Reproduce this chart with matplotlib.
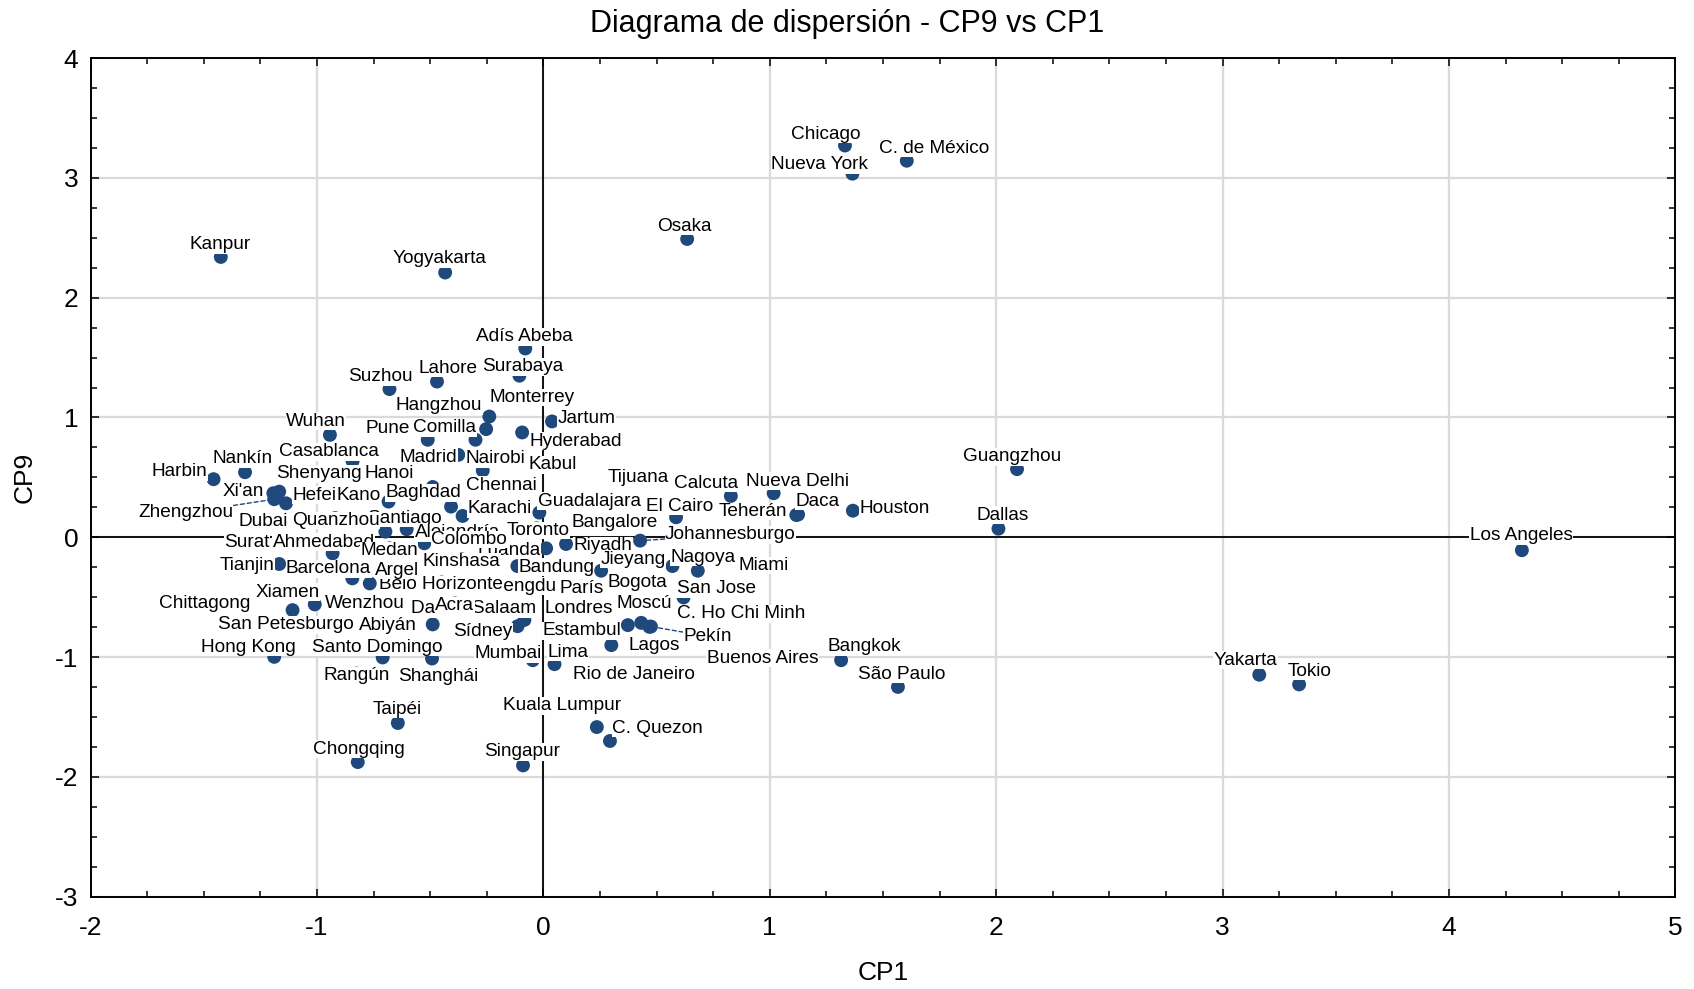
import matplotlib
matplotlib.use("Agg")
import matplotlib.pyplot as plt
from matplotlib.ticker import MultipleLocator

plt.rcParams['font.family'] = ['Liberation Sans', 'DejaVu Sans']
plt.rcParams['axes.unicode_minus'] = False

# ---- data ----
cities = [
    "Chicago", "C. de México", "Nueva York", "Osaka", "Kanpur", "Yogyakarta",
    "Adís Abeba", "Surabaya", "Lahore", "Suzhou", "Hangzhou", "Monterrey",
    "Jartum", "Wuhan", "Pune", "Comilla", "Hyderabad", "Casablanca", "Madrid",
    "Nairobi", "Kabul", "Nankín", "Harbin", "Shenyang", "Hanoi", "Chennai",
    "Xi'an", "Hefei", "Kano", "Baghdad", "Zhengzhou", "Karachi", "Guadalajara",
    "Tijuana", "Calcuta", "Nueva Delhi", "El Cairo", "Teherán", "Daca",
    "Houston", "Guangzhou", "Dallas", "Los Angeles", "Santiago", "Dubai",
    "Quanzhou", "Alejandría", "Bangalore", "Johannesburgo", "Surat",
    "Ahmedabad", "Medan", "Luanda", "Colombo", "Toronto", "Riyadh", "Kinshasa",
    "Bandung", "Jieyang", "Nagoya", "Miami", "Tianjin", "Barcelona", "Chengdu",
    "Belo Horizonte", "Argel", "París", "Bogota", "San Jose", "Xiamen",
    "Wenzhou", "Chittagong", "Dar es Salaam", "Acra", "Londres", "Moscú",
    "C. Ho Chi Minh", "San Petesburgo", "Abiyán", "Sídney", "Estambul", "Pekín",
    "Hong Kong", "Santo Domingo", "Mumbai", "Lima", "Lagos", "Buenos Aires",
    "Bangkok", "Yakarta", "Tokio", "Rangún", "Shanghái", "Rio de Janeiro",
    "São Paulo", "Taipéi", "Kuala Lumpur", "C. Quezon", "Chongqing", "Singapur",
]

cp1 = [
    1.332, 1.605, 1.365, 0.635, -1.425, -0.434,
    -0.080, -0.106, -0.470, -0.680, -0.253, -0.239,
    0.038, -0.943, -0.511, -0.300, -0.094, -0.843, -0.376,
    -0.268, 0.030, -1.318, -1.457, -1.180, -0.489, -0.357,
    -1.193, -1.167, -0.800, -0.684, -1.189, -0.408, -0.018,
    0.586, 0.828, 1.017, 0.600, 1.117, 1.125,
    1.367, 2.092, 2.010, 4.322, -0.698, -1.137,
    -0.920, -0.604, 0.320, 0.427, -1.310,
    -0.931, -0.680, 0.012, -0.526, -0.030, 0.100, -0.360,
    -0.115, 0.255, 0.570, 0.682, -1.167, -0.844, -0.110,
    -0.450, -0.767, 0.170, 0.417, 0.619, -1.108,
    -1.010, -1.496, -0.084, -0.391, 0.154, 0.432,
    0.468, -1.139, -0.489, -0.114, 0.373, 0.475,
    -1.189, -0.710, -0.047, 0.049, 0.300, 0.968,
    1.315, 3.162, 3.338, -0.826, -0.492, 0.402,
    1.566, -0.643, 0.236, 0.294, -0.820, -0.090,
]

cp9 = [
    3.270, 3.143, 3.035, 2.490, 2.340, 2.210,
    1.576, 1.349, 1.300, 1.237, 0.903, 1.008,
    0.967, 0.855, 0.814, 0.814, 0.875, 0.635, 0.688,
    0.557, 0.620, 0.543, 0.485, 0.345, 0.420, 0.178,
    0.368, 0.381, 0.360, 0.298, 0.318, 0.256, 0.206,
    0.167, 0.345, 0.368, 0.270, 0.186, 0.190,
    0.222, 0.569, 0.072, -0.108, 0.047, 0.284,
    0.160, 0.067, 0.145, -0.028, -0.030,
    -0.134, -0.092, -0.092, -0.050, 0.075, -0.056, -0.184,
    -0.240, -0.279, -0.240, -0.279, -0.223, -0.343, -0.390,
    -0.377, -0.385, -0.413, -0.357, -0.502, -0.608,
    -0.560, -0.533, -0.690, -0.552, -0.574, -0.714,
    -0.747, -0.714, -0.727, -0.742, -0.733, -0.745,
    -0.998, -1.003, -1.026, -1.059, -0.900, -0.992,
    -1.026, -1.147, -1.228, -1.137, -1.012, -1.124,
    -1.249, -1.550, -1.584, -1.700, -1.876, -1.904,
]

# ---- layout: label centres (data units) as placed in the reference ----
label_x = [
    1.248, 1.726, 1.220, 0.623, -1.430, -0.461,
    -0.084, -0.091, -0.423, -0.720, -0.461, -0.051,
    0.192, -1.004, -0.689, -0.436, 0.143, -0.949, -0.507,
    -0.211, 0.041, -1.331, -1.608, -0.993, -0.681, -0.186,
    -1.325, -1.012, -0.817, -0.532, -1.581, -0.194, 0.203,
    0.417, 0.717, 1.122, 0.603, 0.927, 1.211,
    1.552, 2.070, 2.027, 4.318, -0.616, -1.238,
    -0.918, -0.381, 0.316, 0.826, -1.311,
    -0.970, -0.681, -0.153, -0.329, -0.025, 0.262, -0.362,
    0.056, 0.395, 0.704, 0.974, -1.307, -0.949, -0.112,
    -0.451, -0.645, 0.170, 0.417, 0.764, -1.131,
    -0.789, -1.496, -0.307, -0.391, 0.154, 0.444,
    0.875, -1.139, -0.686, -0.268, 0.169, 0.726,
    -1.303, -0.736, -0.158, 0.107, 0.490, 0.968,
    1.416, 3.101, 3.383, -0.826, -0.463, 0.402,
    1.581, -0.644, 0.084, 0.504, -0.813, -0.095,
]
label_y = [
    3.381, 3.264, 3.128, 2.613, 2.460, 2.342,
    1.691, 1.440, 1.427, 1.357, 1.115, 1.184,
    1.008, 0.987, 0.925, 0.933, 0.819, 0.730, 0.688,
    0.674, 0.624, 0.674, 0.563, 0.549, 0.549, 0.452,
    0.401, 0.368, 0.368, 0.390, 0.222, 0.256, 0.320,
    0.513, 0.471, 0.487, 0.278, 0.234, 0.318,
    0.256, 0.689, 0.201, 0.030, 0.178, 0.150,
    0.159, 0.055, 0.145, 0.038, -0.028,
    -0.023, -0.092, -0.092, 0.000, 0.075, -0.050, -0.184,
    -0.232, -0.167, -0.148, -0.217, -0.217, -0.246, -0.390,
    -0.377, -0.259, -0.413, -0.357, -0.413, -0.441,
    -0.533, -0.533, -0.580, -0.552, -0.574, -0.538,
    -0.622, -0.714, -0.719, -0.769, -0.761, -0.809,
    -0.900, -0.900, -0.956, -0.942, -0.886, -0.992,
    -0.895, -1.009, -1.099, -1.137, -1.143, -1.124,
    -1.124, -1.416, -1.388, -1.575, -1.751, -1.773,
]
leader_cities = ["Zhengzhou", "Johannesburgo", "Pekín"]

# ---- figure ----
BLUE = '#1F497D'
LABEL_DY = -0.018  # small vertical nudge of label boxes (visual centring)

fig = plt.figure(figsize=(16.94, 9.89), dpi=100)
ax = fig.add_axes([0.0535, 0.0933, 0.9355, 0.8480])

ax.set_xlim(-2, 5)
ax.set_ylim(-3, 4)
ax.xaxis.set_major_locator(MultipleLocator(1))
ax.yaxis.set_major_locator(MultipleLocator(1))
ax.xaxis.set_minor_locator(MultipleLocator(0.25))
ax.yaxis.set_minor_locator(MultipleLocator(0.25))
ax.grid(True, which='major', color='#dadada', linewidth=1.6, zorder=0)
ax.set_axisbelow(True)
ax.tick_params(which='both', direction='in', top=True, right=True,
               colors='black', width=1.1)
ax.tick_params(which='major', length=6, labelsize=19)
ax.tick_params(which='minor', length=4)
ax.tick_params(axis='x', which='major', pad=14)
ax.tick_params(axis='y', which='major', pad=9)
for s in ax.spines.values():
    s.set_linewidth(1.4)
    s.set_color('black')

ax.axhline(0, color='black', linewidth=1.3, zorder=1.5)
ax.axvline(0, color='black', linewidth=1.3, zorder=1.5)

ax.scatter(cp1, cp9, s=100, color=BLUE, edgecolors='none', zorder=3)

for i, name in enumerate(cities):
    kw = {}
    if name in leader_cities:
        kw['arrowprops'] = dict(arrowstyle='-', color=BLUE, lw=1.0,
                                linestyle=(0, (3, 2)), shrinkA=0, shrinkB=4)
    ax.annotate(name, xy=(cp1[i], cp9[i]),
                xytext=(label_x[i], label_y[i] + LABEL_DY),
                textcoords='data', ha='center', va='center', fontsize=13.7,
                color='black', zorder=4 + i * 0.001,
                bbox=dict(boxstyle='square,pad=0.02', fc='white', ec='none'),
                **kw)

fig.text(0.5, 0.976, 'Diagrama de dispersión - CP9 vs CP1', fontsize=22,
         ha='center', va='center')
ax.set_xlabel('CP1', fontsize=19, labelpad=15)
ax.set_ylabel('CP9', fontsize=19, labelpad=13)

fig.savefig('out.png', dpi=100)
